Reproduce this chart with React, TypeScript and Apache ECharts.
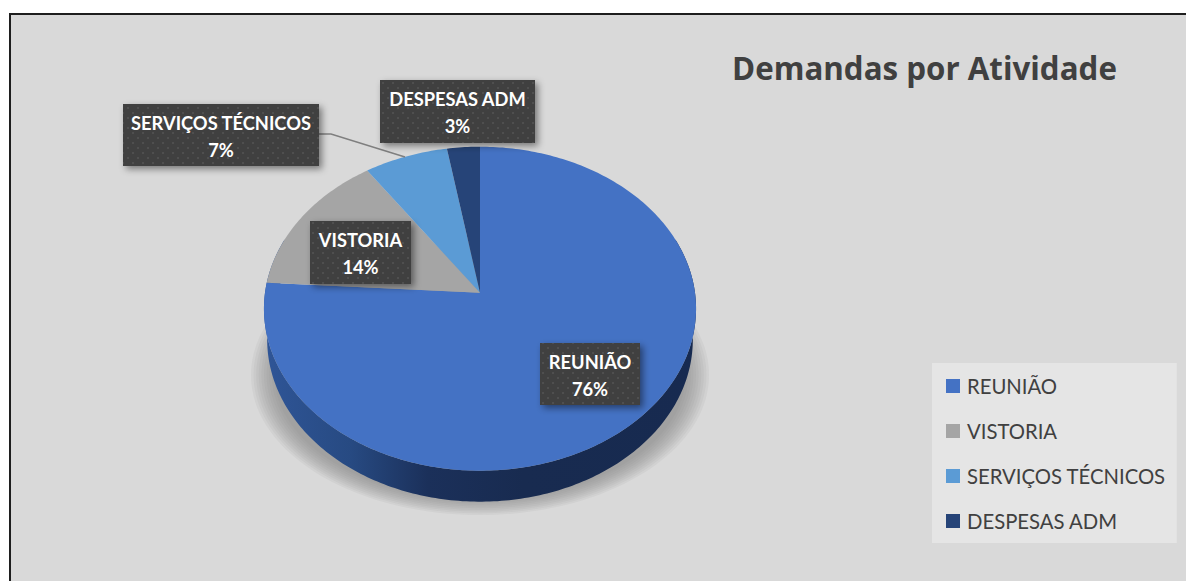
import React, { useEffect, useRef } from "react";
import * as echarts from "echarts";

const categories = ["REUNIÃO", "VISTORIA", "SERVIÇOS TÉCNICOS", "DESPESAS ADM"];
const shares = [76.0, 14.4, 6.9, 2.7];
const colors = ["#4472C4", "#A5A5A5", "#5B9BD5", "#264478"];
const titleText = "Demandas por Atividade";
const labelBoxes = [
  { x: 540, y: 343, w: 100, h: 62 },
  { x: 310, y: 221, w: 101, h: 63 },
  { x: 123, y: 104, w: 196, h: 62 },
  { x: 380, y: 80, w: 155, h: 63 },
];
const leader = [[319, 134], [331, 134], [405, 157]];

const cx = 480, cy = 292.7, ax = 215, by = 160.4, k = 0.0988;
const total = shares.reduce((a, b) => a + b, 0);
const project = (t: number, dy = 0, sx = 1) => {
  const u = Math.sin(t), v = Math.cos(t), d = 1 + k * v;
  return [cx + (sx * ax * u) / d, cy + dy - (by * v) / d];
};
const sample = (a0: number, a1: number, dy = 0, sx = 1) => {
  const n = Math.max(8, Math.ceil(Math.abs(a1 - a0) * 60));
  const pts: number[][] = [];
  for (let i = 0; i <= n; i++) pts.push(project(a0 + ((a1 - a0) * i) / n, dy, sx));
  return pts;
};

function makeDots() {
  const c = document.createElement("canvas");
  c.width = 10; c.height = 10;
  const g = c.getContext("2d")!;
  g.fillStyle = "#3F3F3F"; g.fillRect(0, 0, 10, 10);
  g.fillStyle = "#505050";
  g.fillRect(2, 2, 2, 2); g.fillRect(7, 7, 2, 2);
  return c;
}

export default function App() {
  const ref = useRef<HTMLDivElement>(null);
  useEffect(() => {
    document.body.style.margin = "0";
    const chart = echarts.init(ref.current!, undefined, { renderer: "svg" });
    const dots = makeDots();
    const series = categories.map((name, idx) => {
      const before = shares.slice(0, idx).reduce((a, b) => a + b, 0);
      return {
        type: "custom", name, coordinateSystem: "none", silent: true,
        itemStyle: { color: colors[idx] },
        data: [[shares[idx]]],
        renderItem: (_p: any, api: any) => {
          const val = api.value(0) as number;
          const a0 = (before / total) * Math.PI * 2;
          const a1 = ((before + val) / total) * Math.PI * 2;
          const box = labelBoxes[idx];
          const children: any[] = [];
          if (idx === 0) {
            const lower = sample(Math.PI / 2 - 0.35, Math.PI * 1.5 + 0.35, 31, 0.985);
            const upper = sample(Math.PI * 1.5 + 0.35, Math.PI / 2 - 0.35);
            for (let i = 0; i < 10; i++) {
              children.push({
                type: "ellipse",
                shape: { cx: 480, cy: 375, rx: 229 - i * 2.6, ry: 140 - i * 1.7 },
                style: { fill: "#808080", opacity: 0.085 },
                z2: 1,
              });
            }
            children.push({
              type: "polygon",
              shape: { points: lower.concat(upper) },
              style: {
                fill: {
                  type: "linear", x: 0, y: 0, x2: 1, y2: 0,
                  colorStops: [
                    { offset: 0, color: "#2F5597" },
                    { offset: 0.2, color: "#274A82" },
                    { offset: 0.38, color: "#1B305A" },
                    { offset: 0.6, color: "#182B50" },
                    { offset: 1, color: "#172A50" },
                  ],
                },
              },
              z2: 2,
            });
          }
          children.push({
            type: "polygon",
            shape: { points: [[cx, cy], ...sample(a0, a1)] },
            style: { fill: colors[idx] },
            z2: 3,
          });
          if (idx === 2) {
            children.push({
              type: "polyline",
              shape: { points: leader },
              style: { stroke: "#7F7F7F", lineWidth: 1.5, fill: "none" },
              z2: 4,
            });
          }
          children.push({
            type: "rect",
            shape: { x: box.x, y: box.y, width: box.w, height: box.h },
            style: {
              fill: { image: dots, repeat: "repeat" },
              shadowBlur: 7, shadowOffsetX: 3, shadowOffsetY: 3, shadowColor: "rgba(0,0,0,0.45)",
            },
            z2: 10,
          });
          children.push({
            type: "text",
            x: box.x + box.w / 2,
            y: box.y + box.h / 2 + 1,
            style: {
              text: `${name}\n${Math.round((val / total) * 100)}%`,
              fill: "#FFFFFF", align: "center", verticalAlign: "middle",
              font: "bold 18.3px Lato", lineHeight: 27,
            },
            z2: 11,
          });
          return { type: "group", children };
        },
      };
    });
    chart.setOption({
      animation: false,
      backgroundColor: "#FFFFFF",
      graphic: [{
        type: "rect", z: -1,
        shape: { x: 10, y: 14, width: 1200, height: 600 },
        style: { fill: "#D9D9D9", stroke: "#1E1E1E", lineWidth: 2 },
      }],
      title: {
        text: titleText, left: 732, top: 52, padding: 0,
        textStyle: { fontFamily: "Open Sans", fontWeight: "bold", fontSize: 31.3, color: "#404040" },
      },
      legend: {
        data: categories, orient: "vertical", left: 932, top: 363,
        padding: [13, 11, 12, 14], itemWidth: 14, itemHeight: 14, itemGap: 25,
        icon: "rect", backgroundColor: "#E5E5E5",
        textStyle: { fontFamily: "Lato", fontSize: 20.3, color: "#404040", padding: [0, 0, 0, 2] },
      },
      series,
    });
    return () => chart.dispose();
  }, []);
  return <div ref={ref} style={{ position: "fixed", left: 0, top: 0, width: 1186, height: 581 }} />;
}
